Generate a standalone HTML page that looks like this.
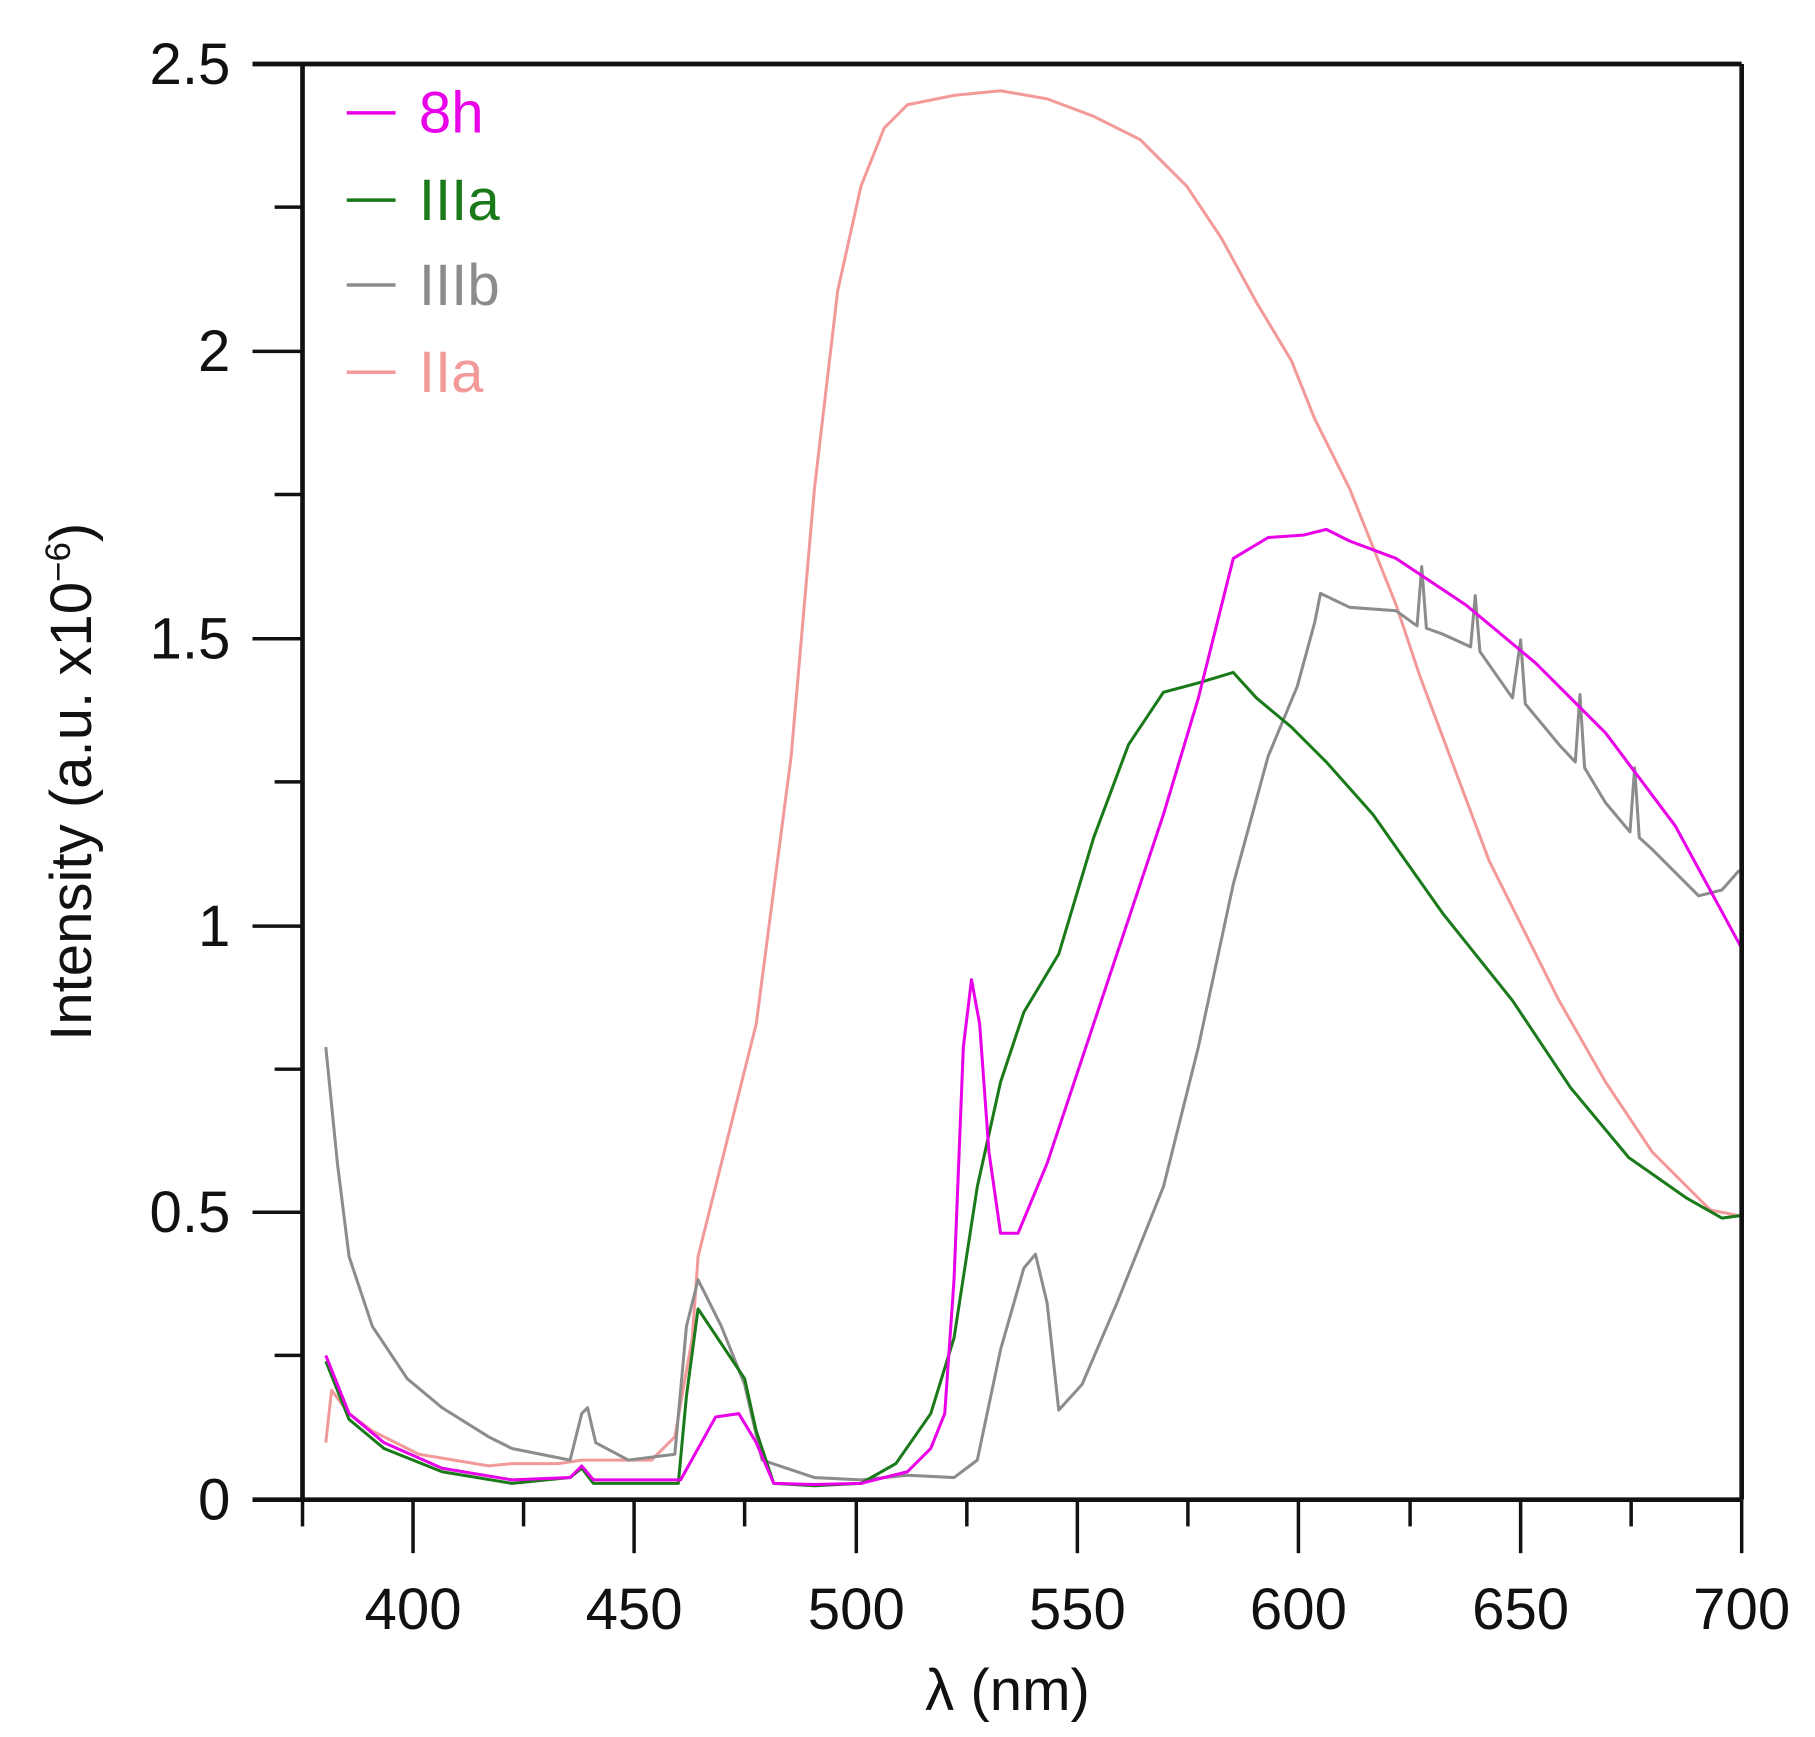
<!DOCTYPE html>
<html><head><meta charset="utf-8"><style>html,body{margin:0;padding:0;background:#fff}svg{display:block}</style></head>
<body>
<svg width="1815" height="1737" viewBox="0 0 1560 1493" xmlns="http://www.w3.org/2000/svg" font-family="Liberation Sans, sans-serif">
<rect width="1560" height="1493" fill="#fff"/>
<g fill="none" stroke-linejoin="round" stroke-width="2.6">
<polyline stroke="#f29a9a" points="280,1240 285,1195 300,1215 320,1230 360,1250 420,1260 440,1258 460,1258 480,1258 500,1255 560,1255 580,1235 595,1150 600,1080 620,1000 650,880 680,650 700,420 720,250 740,160 760,110 780,90 820,82 860,78 900,85 940,100 980,120 1020,160 1050,205 1080,260 1110,310 1130,360 1160,420 1180,470 1200,520 1220,580 1250,660 1280,740 1310,800 1340,860 1380,930 1420,990 1450,1020 1470,1040 1495,1045"/>
<polyline stroke="#8c8c8c" points="280,900 290,1000 300,1080 320,1140 350,1185 380,1210 420,1235 440,1245 490,1255 500,1215 505,1210 512,1240 540,1255 580,1250 590,1140 600,1100 620,1140 640,1190 655,1255 700,1270 740,1272 780,1268 820,1270 840,1255 860,1160 880,1090 890,1078 900,1120 910,1212 930,1190 960,1120 1000,1020 1030,900 1060,760 1090,650 1115,590 1130,535 1135,510 1160,522 1200,525 1218,538 1222,487 1226,540 1240,545 1264,556 1268,512 1272,560 1300,600 1307,550 1311,605 1340,640 1354,655 1358,597 1362,660 1380,690 1401,715 1405,660 1409,720 1420,730 1460,770 1480,765 1495,748"/>
<polyline stroke="#1a7a1a" points="280,1170 300,1220 330,1245 380,1265 440,1275 490,1270 500,1262 510,1275 583,1275 590,1200 600,1125 620,1155 640,1185 650,1230 665,1275 700,1277 740,1275 770,1258 800,1215 820,1150 840,1020 860,930 880,870 910,820 940,720 970,640 1000,595 1030,587 1060,578 1080,600 1110,625 1140,655 1180,700 1240,785 1300,860 1350,935 1400,995 1450,1030 1480,1047 1495,1045"/>
<polyline stroke="#e800e8" points="280,1165 300,1215 330,1240 380,1262 440,1272 490,1270 500,1260 510,1272 585,1272 600,1245 615,1218 635,1215 650,1240 665,1275 700,1276 740,1275 780,1265 800,1245 812,1215 820,1100 828,900 835,842 842,880 850,990 860,1060 875,1060 900,1000 950,850 1000,700 1030,600 1060,480 1090,462 1120,460 1140,455 1160,465 1200,480 1260,520 1320,570 1380,630 1440,710 1497,815"/>
</g>
<g stroke="#111" stroke-width="4" fill="none">
<line x1="217" y1="55" x2="1497" y2="55"/>
<line x1="217" y1="1289" x2="1497" y2="1289"/>
<line x1="260" y1="55" x2="260" y2="1289"/>
<line x1="1497" y1="55" x2="1497" y2="1289"/>
</g>
<g stroke="#111" stroke-width="3">
<line x1="217" y1="302" x2="260" y2="302"/><line x1="217" y1="549" x2="260" y2="549"/><line x1="217" y1="796" x2="260" y2="796"/><line x1="217" y1="1042" x2="260" y2="1042"/>
<line x1="236" y1="178" x2="260" y2="178"/><line x1="236" y1="425" x2="260" y2="425"/><line x1="236" y1="672" x2="260" y2="672"/><line x1="236" y1="919" x2="260" y2="919"/><line x1="236" y1="1165" x2="260" y2="1165"/>
<line x1="355" y1="1289" x2="355" y2="1335"/><line x1="545" y1="1289" x2="545" y2="1335"/><line x1="736" y1="1289" x2="736" y2="1335"/><line x1="926" y1="1289" x2="926" y2="1335"/><line x1="1116" y1="1289" x2="1116" y2="1335"/><line x1="1307" y1="1289" x2="1307" y2="1335"/><line x1="1497" y1="1289" x2="1497" y2="1335"/>
<line x1="260" y1="1289" x2="260" y2="1312"/><line x1="450" y1="1289" x2="450" y2="1312"/><line x1="640" y1="1289" x2="640" y2="1312"/><line x1="831" y1="1289" x2="831" y2="1312"/><line x1="1021" y1="1289" x2="1021" y2="1312"/><line x1="1212" y1="1289" x2="1212" y2="1312"/><line x1="1402" y1="1289" x2="1402" y2="1312"/>
</g>
<g font-size="50" fill="#111" text-anchor="end">
<text x="198" y="72">2.5</text><text x="198" y="319">2</text><text x="198" y="566">1.5</text><text x="198" y="813">1</text><text x="198" y="1059">0.5</text><text x="198" y="1306">0</text>
</g>
<g font-size="50" fill="#111" text-anchor="middle">
<text x="355" y="1400">400</text><text x="545" y="1400">450</text><text x="736" y="1400">500</text><text x="926" y="1400">550</text><text x="1116" y="1400">600</text><text x="1307" y="1400">650</text><text x="1497" y="1400">700</text>
<text x="866" y="1470">λ (nm)</text>
<text transform="translate(78,672) rotate(-90)">Intensity (a.u. x10<tspan font-size="30" dy="-18">−6</tspan><tspan dy="18">)</tspan></text>
</g>
<g stroke-width="3">
<line x1="298" y1="97" x2="340" y2="97" stroke="#e800e8"/>
<line x1="298" y1="172" x2="340" y2="172" stroke="#1a7a1a"/>
<line x1="298" y1="245" x2="340" y2="245" stroke="#8c8c8c"/>
<line x1="298" y1="320" x2="340" y2="320" stroke="#f29a9a"/>
</g>
<g font-size="50">
<text x="360" y="114" fill="#e800e8">8h</text>
<text x="360" y="189" fill="#1a7a1a">IIIa</text>
<text x="360" y="262" fill="#8c8c8c">IIIb</text>
<text x="360" y="337" fill="#f29a9a">IIa</text>
</g>
</svg>
</body></html>
